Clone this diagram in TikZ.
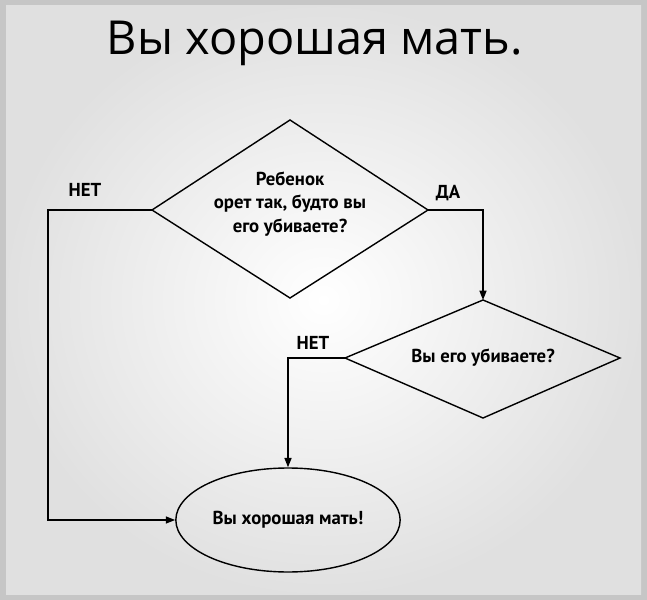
\documentclass[tikz,border=0pt]{standalone}
\usepackage{fontspec}
\setmainfont{PT Sans}
\newfontfamily\titlefont{Open Sans}
\usetikzlibrary{shapes.geometric,arrows.meta}
\begin{document}
\begin{tikzpicture}[x=0.03cm,y=-0.03cm,
  lbl/.style={font=\bfseries\fontsize{16}{20}\selectfont,align=center},
  conn/.style={line width=1.3pt,-{Triangle[length=8pt,width=6pt]}},
  shp/.style={line width=1.2pt}]
\fill[gray!45] (0,0) rectangle (647,600);
\shade[inner color=white,outer color=white!88!black] (6,6) rectangle (641,594);
\useasboundingbox (0,0) rectangle (647,600);
\node[font=\titlefont\fontsize{40}{46}\selectfont] (title) at (315,43) {Вы хорошая мать.};
\draw[shp] (152,210) -- (290,120) -- (428,210) -- (290,298) -- cycle;
\coordinate (d1l) at (152,210); \coordinate (d1r) at (428,210);
\node[lbl] (q1) at (290,204) {Ребенок\\орет так, будто вы\\его убиваете?};
\draw[shp] (345,358) -- (483,300) -- (620,358) -- (483,418) -- cycle;
\coordinate (d2t) at (483,300); \coordinate (d2l) at (345,358);
\node[lbl] (q2) at (483,358) {Вы его убиваете?};
\node[draw,shp,ellipse,minimum width=220*0.03cm,minimum height=104*0.03cm,lbl] (end) at (288,520) {Вы хорошая мать!};
\node[lbl] (no1) at (85,190) {НЕТ};
\node[lbl] (yes1) at (448,193) {ДА};
\node[lbl] (no2) at (313,343) {НЕТ};
\draw[conn] (d1l) -- (48,210) -- (48,520) -- (end.west);
\draw[conn] (d1r) -- (483,210) -- (d2t);
\draw[conn] (d2l) -- (288,358) -- (end.north);
\end{tikzpicture}
\end{document}
